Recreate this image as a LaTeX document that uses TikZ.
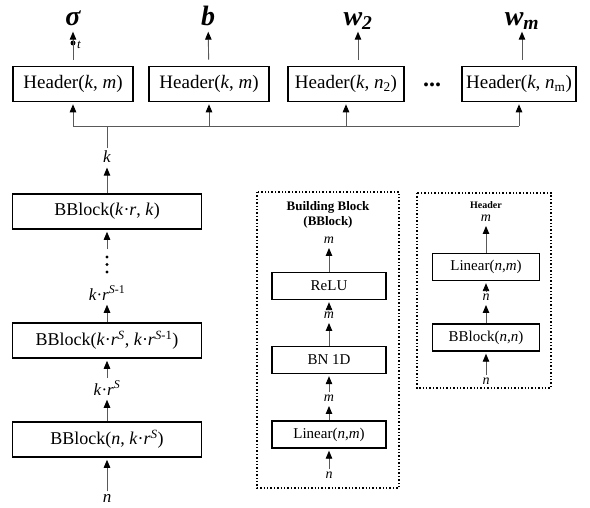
\documentclass[tikz,border=0pt]{standalone}
\usepackage{fontspec}
\setmainfont{Liberation Serif}
\usetikzlibrary{arrows.meta,calc}
\tikzstyle{block} = [draw,line width=1.6pt,minimum height=35pt,inner sep=0pt,font=\fontsize{18}{20}\selectfont]
\tikzstyle{smallblock} = [draw,line width=1.4pt,minimum width=114pt,minimum height=27pt,inner sep=0pt,font=\fontsize{15}{17}\selectfont]
\tikzstyle{dim} = [inner sep=2.5pt,font=\fontsize{17}{19}\selectfont]
\tikzstyle{smalldim} = [inner sep=2.5pt,font=\fontsize{14}{16}\selectfont\itshape]
\tikzstyle{output} = [inner sep=3pt,text height=19pt,text depth=0pt,font=\fontsize{28}{30}\selectfont\bfseries\itshape]
\tikzstyle{wire} = [draw,line width=0.9pt,black!65]
\tikzstyle{edge} = [draw,line width=0.9pt,black!65,-{Triangle[length=8pt,width=6.5pt,color=black]},shorten >=2pt]
\tikzstyle{frame} = [draw,dotted,line width=1.4pt]

\begin{document}
\begin{tikzpicture}[x=1pt,y=-1pt]
    \useasboundingbox (0,0) rectangle (590,508);

    % Headers on top, with their outputs
    \foreach \pos/\name/\bw/\txt in {{(73,84)/h1/120/{Header(\textit{k}, \textit{m})}},
            {(209,84)/h2/120/{Header(\textit{k}, \textit{m})}},
            {(346,84)/h3/116/{Header(\textit{k}, \textit{n}\textsubscript{2})}},
            {(519,84)/h4/114/{Header(\textit{k}, \textit{n}\textsubscript{m})}}}
        \node[block,minimum width=\bw,font=\fontsize{19}{21}\selectfont] (\name) at \pos {\txt};
    \node[font=\fontsize{24}{26}\selectfont\bfseries] (hdots) at (432,85) {...};

    \foreach \pos/\name/\txt in {{(73,16)/sigma/σ},{(208,16)/b/b},{(358,16)/wtwo/{w\textsubscript{2}}},{(522,16)/wm/{w\textsubscript{m}}}}
        \node[output] (\name) at \pos {\txt};

    \node[circle,fill=black,inner sep=0pt,minimum size=5pt] (tdot) at (73,43) {};
    \node[font=\fontsize{13}{15}\selectfont\itshape,anchor=west,inner sep=1pt] (t) at (76,45) {t};
    \path[edge,shorten <=6pt,shorten >=3pt] (h1) -- (sigma);
    \path[edge,shorten <=6pt,shorten >=3pt] (h2) -- (b);
    \path[edge,shorten <=6pt,shorten >=3pt] (h3.north -| wtwo) -- (wtwo);
    \path[edge,shorten <=6pt,shorten >=3pt] (h4.north -| wm) -- (wm);

    % Bus from the stack to all headers
    \coordinate (bus) at (107,126);
    \path[wire] (h1.south |- bus) -- (h4.south |- bus);
    \foreach \name in {h1,h2,h3,h4}
        \path[edge] (\name.south |- bus) -- (\name.south);

    % Stack of building blocks
    \node[dim] (k) at (107,157) {\textit{k}};
    \node[block,minimum width=189pt] (bb1) at (107,211.5) {BBlock(\textit{k}·\textit{r}, \textit{k})};
    \node[minimum width=6pt,minimum height=30pt,inner sep=0pt] (vd) at (107,264.5) {};
    \foreach \y in {257,264.5,272}
        \fill (107,\y) circle (1.7);
    \node[dim] (ks1) at (107,293) {\textit{k}·\textit{r}\textsuperscript{\textit{S}-1}};
    \node[block,minimum width=189pt] (bb2) at (107,340.5) {BBlock(\textit{k}·\textit{r}\textsuperscript{\textit{S}}, \textit{k}·\textit{r}\textsuperscript{\textit{S}-1})};
    \node[dim] (ks) at (107,388) {\textit{k}·\textit{r}\textsuperscript{\textit{S}}};
    \node[block,minimum width=189pt] (bb3) at (107,439.5) {BBlock(\textit{n}, \textit{k}·\textit{r}\textsuperscript{\textit{S}})};
    \node[dim] (n) at (107,498) {\textit{n}};

    \path[wire] (k) -- (k |- bus);
    \foreach \source/\dest in {bb1/k, vd/bb1, bb2/ks1, ks/bb2, bb3/ks, n/bb3}
        \path[edge] (\source) -- (\dest);

    % Building block
    \draw[frame] (257,192) rectangle (399,488);
    \node[align=center,font=\fontsize{13}{15}\selectfont\bfseries] (bbtitle) at (328,214.5) {Building Block\\(BBlock)};
    \node[smalldim] (m1) at (329,240) {m};
    \node[smallblock] (relu) at (329,286) {ReLU};
    \node[smalldim] (m2) at (329,315) {m};
    \node[smallblock] (bn) at (329,360) {BN 1D};
    \node[smalldim] (m3) at (329,398) {m};
    \node[smallblock] (lin) at (329,434.5) {Linear(\textit{n},\textit{m})};
    \node[smalldim] (n1) at (329,475) {n};
    \foreach \source/\dest in {relu/m1, m2/relu, bn/m2, m3/bn, lin/m3, n1/lin}
        \path[edge] (\source) -- (\dest);

    % Header
    \draw[frame] (417,193) rectangle (551,388);
    \node[font=\fontsize{10}{12}\selectfont\bfseries] (htitle) at (486,205) {Header};
    \node[smalldim] (hm) at (486,218) {m};
    \node[smallblock,minimum width=107pt] (hlin) at (486,267) {Linear(\textit{n},\textit{m})};
    \node[smalldim] (hn1) at (486,297) {n};
    \node[smallblock,minimum width=107pt] (hbb) at (486,337.5) {BBlock(\textit{n},\textit{n})};
    \node[smalldim] (hn2) at (486,381) {n};
    \foreach \source/\dest in {hlin/hm, hn1/hlin, hbb/hn1, hn2/hbb}
        \path[edge] (\source) -- (\dest);
\end{tikzpicture}
\end{document}
